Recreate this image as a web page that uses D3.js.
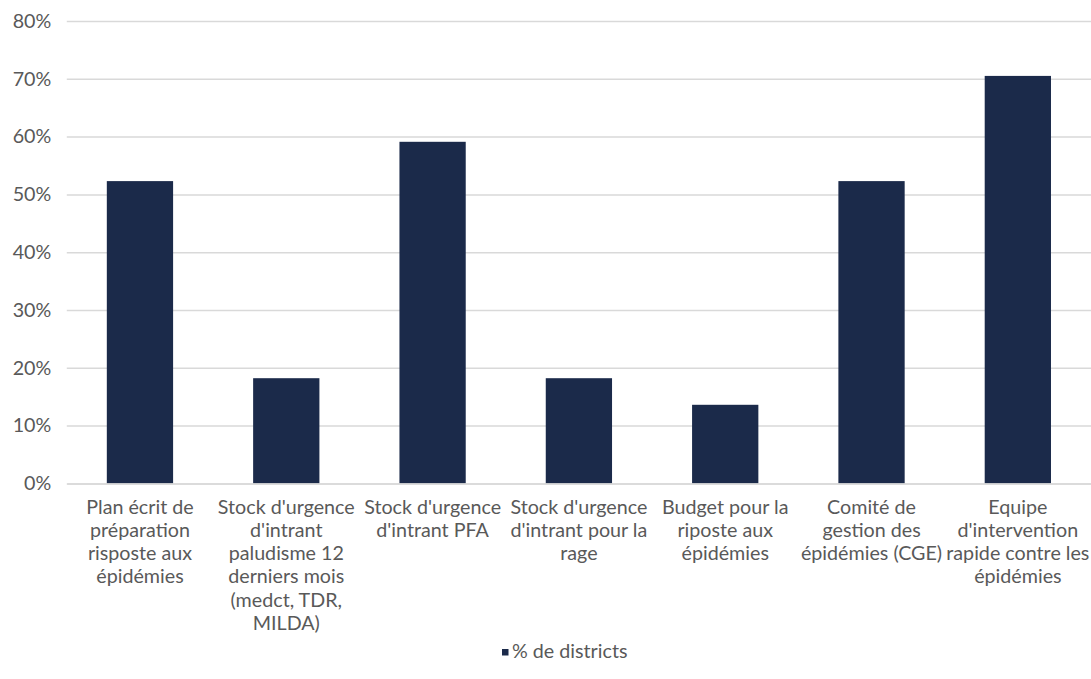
<!DOCTYPE html>
<html><head><meta charset="utf-8">
<script src="https://cdn.jsdelivr.net/npm/d3@7"></script>
<style>body{margin:0;background:#fff}svg{display:block}</style>
</head><body>
<svg id="c" width="1091" height="679"></svg>
<script>
const categories = [
  ["Plan écrit de","préparation","risposte aux","épidémies"],
  ["Stock d'urgence","d'intrant","paludisme 12","derniers mois","(medct, TDR,","MILDA)"],
  ["Stock d'urgence","d'intrant PFA"],
  ["Stock d'urgence","d'intrant pour la","rage"],
  ["Budget pour la","riposte aux","épidémies"],
  ["Comité de","gestion des","épidémies (CGE)"],
  ["Equipe","d'intervention","rapide contre les","épidémies"]
];
const values = [0.523, 0.182, 0.591, 0.182, 0.136, 0.523, 0.705];
const yTicks = [0, 0.1, 0.2, 0.3, 0.4, 0.5, 0.6, 0.7, 0.8];
const seriesName = "% de districts";

const W = 1091, H = 679;
const m = {left: 66.8, right: 0, top: 21, bottom: 196};
const svg = d3.select("#c");
const font = "Lato, 'Open Sans', sans-serif";
const txt = "#595959";

// fit font size to reference text width
const probe = svg.append("text").attr("font-family", font).attr("font-size", 16).text("Stock d'urgence");
const w16 = probe.node().getComputedTextLength();
probe.remove();
const fs = 16 * 137 / w16;

const ids = categories.map((d,i)=>i);
const x = d3.scaleBand().domain(ids).range([m.left, W - m.right]).paddingInner(0.547).paddingOuter(0.2735);
const y = d3.scaleLinear().domain([0, 0.8]).range([H - m.bottom + 0.4, m.top]);

// gridlines
const yAxis = d3.axisLeft(y).tickValues(yTicks).tickFormat(d3.format(".0%")).tickSize(-(W - m.left - m.right)).tickPadding(15);
const g = svg.append("g").attr("transform", `translate(${m.left},0)`).call(yAxis);
g.select(".domain").remove();
g.selectAll(".tick line").attr("stroke", "#d9d9d9").attr("stroke-width", 1.5);
g.selectAll(".tick text").attr("fill", txt).attr("font-family", font).attr("font-size", fs).attr("x", -15.5);

// bars
svg.append("g").selectAll("rect").data(values).join("rect")
  .attr("x", (d,i)=>x(i)).attr("width", x.bandwidth())
  .attr("y", d=>y(d)).attr("height", d=>y(0)-y(d))
  .attr("fill", "#1b2a4a");

// x axis
const xAxis = d3.axisBottom(x).tickSize(0).tickFormat("");
const gx = svg.append("g").attr("transform", `translate(0,${y(0)})`).call(xAxis);
gx.select(".domain").attr("stroke", "#d9d9d9").attr("stroke-width", 1.5);
gx.selectAll(".tick").each(function(i){
  const t = d3.select(this).append("text").attr("fill", txt).attr("font-family", font)
    .attr("font-size", fs).attr("text-anchor", "middle");
  categories[i].forEach((line, k)=>{
    t.append("tspan").attr("x", 0).attr("y", 30.5 + k*23.2).text(line);
  });
});

// legend
const lg = svg.append("g");
const lt = lg.append("text").attr("x", 512).attr("y", 658).attr("fill", txt)
  .attr("font-family", font).attr("font-size", fs).text(seriesName);
lg.append("rect").attr("x", 502).attr("y", 649).attr("width", 6.5).attr("height", 6.5).attr("fill", "#1b2a4a");
</script>
</body></html>
